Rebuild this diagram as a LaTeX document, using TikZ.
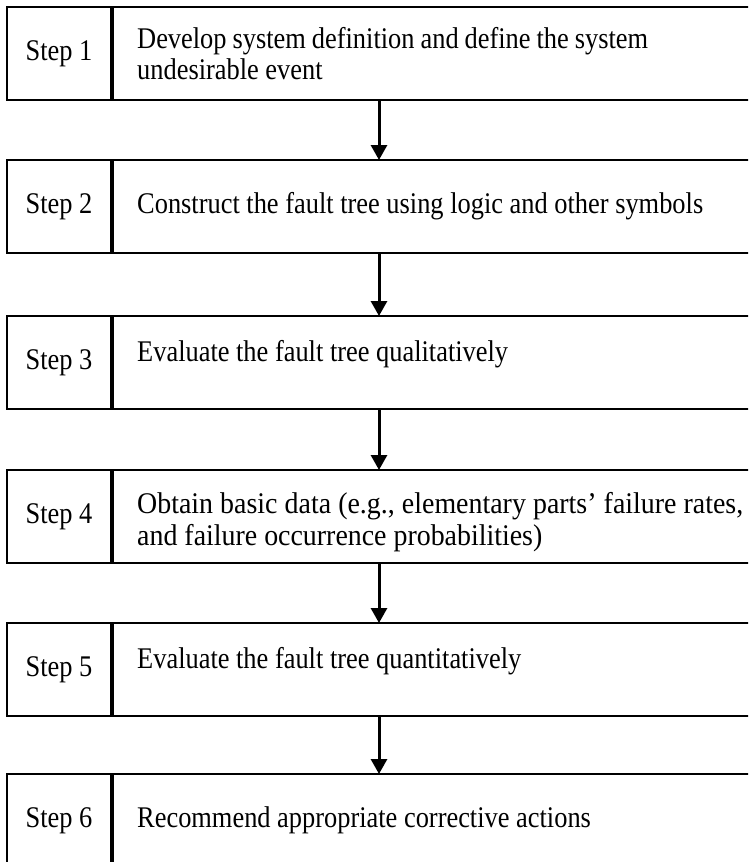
\documentclass[tikz,border=0pt]{standalone}
\usepackage{fontspec}
\setmainfont{Liberation Serif}[FakeStretch=0.88]
\newfontfamily\widerserif{Liberation Serif}[FakeStretch=0.93]
\usetikzlibrary{arrows.meta}
\begin{document}
\begin{tikzpicture}[x=1pt,y=1pt,
  stepfont/.style={font=\fontsize{30}{31}\selectfont},
  stepcell/.style={draw, line width=2pt, minimum width=104pt, minimum height=93pt,
    anchor=north west, inner sep=0pt, stepfont},
  desccell/.style={draw, line width=2pt, minimum width=650pt, minimum height=93pt,
    anchor=west, inner sep=0pt},
  desc/.style={anchor=west, inner sep=0pt, align=left, stepfont},
  flow/.style={line width=3pt, -{Triangle[length=15pt,width=16pt]}, shorten >=-1pt}]
\useasboundingbox (0,0) rectangle (748,-862);
\clip (0,0) rectangle (748,-862);
% left column: step labels
\node[stepcell] (s1) at (6,-6)   {Step 1};
\node[stepcell] (s2) at (6,-159) {Step 2};
\node[stepcell] (s3) at (6,-315) {Step 3};
\node[stepcell] (s4) at (6,-469) {Step 4};
\node[stepcell] (s5) at (6,-622) {Step 5};
\node[stepcell] (s6) at (6,-773) {Step 6};
% right column: cells
\node[desccell] (t1) at (s1.east) {};
\node[desccell] (t2) at (s2.east) {};
\node[desccell] (t3) at (s3.east) {};
\node[desccell] (t4) at (s4.east) {};
\node[desccell] (t5) at (s5.east) {};
\node[desccell] (t6) at (s6.east) {};
% step descriptions
\node[desc] (d1) at ([xshift=25pt]t1.west) {\makebox[511pt][s]{Develop system definition and define the system}\\undesirable event};
\node[desc] (d2) at ([xshift=25pt]t2.west) {Construct the fault tree using logic and other symbols};
\node[desc] (d3) at ([xshift=25pt,yshift=8pt]t3.west) {Evaluate the fault tree qualitatively};
\node[desc, font=\fontsize{30}{32}\widerserif] (d4) at ([xshift=25pt,yshift=-6pt]t4.west) {\makebox[606pt][s]{Obtain basic data (e.g., elementary parts’ failure rates,}\\and failure occurrence probabilities)};
\node[desc] (d5) at ([xshift=25pt,yshift=8pt]t5.west) {Evaluate the fault tree quantitatively};
\node[desc] (d6) at ([xshift=25pt]t6.west) {Recommend appropriate corrective actions};
% connectors between consecutive steps
\coordinate (ax) at (379,0);
\draw[flow] (t1.south -| ax) -- (t2.north -| ax);
\draw[flow] (t2.south -| ax) -- (t3.north -| ax);
\draw[flow] (t3.south -| ax) -- (t4.north -| ax);
\draw[flow] (t4.south -| ax) -- (t5.north -| ax);
\draw[flow] (t5.south -| ax) -- (t6.north -| ax);
\end{tikzpicture}
\end{document}
